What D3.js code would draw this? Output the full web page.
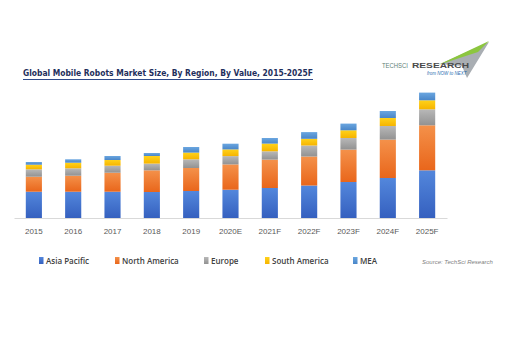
<!DOCTYPE html>
<html>
<head>
<meta charset="utf-8">
<script src="https://cdn.jsdelivr.net/npm/d3@7"></script>
<style>
  html, body { margin: 0; padding: 0; background: #fff; }
  svg { display: block; }
</style>
</head>
<body>
<svg id="chart" width="512" height="337"></svg>
<script>
'use strict';

//  --------------------------------  DATA  --------------------------------  //

const years = ['2015', '2016', '2017', '2018', '2019', '2020E', '2021F', '2022F', '2023F', '2024F', '2025F'];
const regions = ['Asia Pacific', 'North America', 'Europe', 'South America', 'MEA'];
const asiaPacific = [26.3, 26.3, 26.3, 26, 27, 28.3, 30, 32.5, 36, 40, 47.7];
const northAmerica = [15, 16, 19, 21.7, 23, 25.3, 28.4, 29, 32.4, 38.4, 45];
const europe = [7.4, 7.4, 7, 6.7, 8.7, 8.3, 8.3, 11, 11.6, 13.6, 16];
const southAmerica = [4.6, 5.6, 5.7, 7.6, 6.7, 6.7, 7.7, 6.7, 7.7, 8, 9];
const mea = [2.7, 3.4, 4, 3, 5.6, 5.7, 5.6, 6.7, 6.7, 7, 7.7];

// top / bottom stops of each segment gradient
const colors = {
  'Asia Pacific': ['#5387dc', '#3560bf'],
  'North America': ['#f4914a', '#e9661b'],
  'Europe': ['#b8b8b8', '#929292'],
  'South America': ['#ffd21a', '#f6b400'],
  'MEA': ['#6aa6e0', '#4a86c8']
};

class RegionChart {
  constructor() {
    this._svg = d3.select('#chart');
    this._x = {};
    this._y = {};

    this._init();
    this._drawHeader();
    this._drawBars();
    this._drawAxis();
    this._drawLegend();
  }

  _init() {
    const table = years.map((year, i) => ({
      year: year,
      'Asia Pacific': asiaPacific[i],
      'North America': northAmerica[i],
      'Europe': europe[i],
      'South America': southAmerica[i],
      'MEA': mea[i]
    }));
    this._series = d3.stack().keys(regions)(table);

    this._x = d3.scaleBand().domain(years).range([14, 447]).paddingInner(0.59).paddingOuter(0.3);
    this._y = d3.scaleLinear().domain([0, 130]).range([218, 88]);

    const defs = this._svg.append('defs');
    regions.forEach((key, i) => {
      const grad = defs.append('linearGradient')
        .attr('id', `grad-${i}`)
        .attr('x1', 0).attr('y1', 0).attr('x2', 0).attr('y2', 1);
      grad.append('stop').attr('offset', '0%').attr('stop-color', colors[key][0]);
      grad.append('stop').attr('offset', '100%').attr('stop-color', colors[key][1]);
    });
  }

  _drawHeader() {
    const svg = this._svg;

    svg.append('text')
      .attr('x', 23)
      .attr('y', 75.5)
      .attr('font-family', 'DejaVu Sans')
      .attr('font-weight', 'bold')
      .attr('font-size', 9.5)
      .attr('fill', '#1f2f5c')
      .attr('textLength', 290)
      .attr('lengthAdjust', 'spacingAndGlyphs')
      .text('Global Mobile Robots Market Size, By Region, By Value, 2015-2025F');

    svg.append('line')
      .attr('x1', 23).attr('x2', 313)
      .attr('y1', 79.5).attr('y2', 79.5)
      .attr('stroke', '#2f4a8a')
      .attr('stroke-width', 1);

    // TechSci logo, simple swoosh + wordmark
    const logo = svg.append('g');
    logo.append('path')
      .attr('d', 'M440,64 L489,42 L467,78 L462,66 Z')
      .attr('fill', '#a9aeb3');
    logo.append('path')
      .attr('d', 'M438,65 L489,41 L478,52 Z')
      .attr('fill', '#8cc63f');
    logo.append('text')
      .attr('x', 382).attr('y', 68)
      .attr('font-family', 'Liberation Sans')
      .attr('font-size', 7)
      .attr('fill', '#5f7f78')
      .attr('textLength', 26)
      .attr('lengthAdjust', 'spacingAndGlyphs')
      .text('TECHSCI');
    logo.append('text')
      .attr('x', 412).attr('y', 68)
      .attr('font-family', 'Liberation Sans')
      .attr('font-weight', 'bold')
      .attr('font-size', 7)
      .attr('fill', '#4a4a4a')
      .attr('textLength', 57)
      .attr('lengthAdjust', 'spacingAndGlyphs')
      .text('RESEARCH');
    logo.append('text')
      .attr('x', 427).attr('y', 75)
      .attr('font-family', 'Liberation Sans')
      .attr('font-style', 'italic')
      .attr('font-size', 4.5)
      .attr('fill', '#2b6cb0')
      .text('from NOW to NEXT');
  }

  _drawBars() {
    this._svg.append('g')
      .selectAll('g')
      .data(this._series)
      .enter()
      .append('g')
      .attr('fill', (d, i) => `url(#grad-${i})`)
      .selectAll('rect')
      .data(d => d)
      .enter()
      .append('rect')
      .attr('x', d => this._x(d.data.year))
      .attr('width', this._x.bandwidth())
      .attr('y', d => this._y(d[1]))
      .attr('height', d => this._y(d[0]) - this._y(d[1]));
  }

  _drawAxis() {
    const axis = this._svg.append('g')
      .attr('transform', `translate(0,${this._y(0)})`)
      .call(d3.axisBottom(this._x).tickSize(0).tickPadding(10));

    axis.select('.domain').attr('stroke', '#d9d9d9');
    axis.selectAll('text')
      .attr('font-family', 'Liberation Sans')
      .attr('font-size', 8)
      .attr('fill', '#595959');
  }

  _drawLegend() {
    const offsets = [39, 115, 204, 265, 353];
    const legend = this._svg.append('g')
      .selectAll('g')
      .data(regions)
      .enter()
      .append('g')
      .attr('transform', (d, i) => `translate(${offsets[i]},257)`);

    legend.append('rect')
      .attr('width', 4.5)
      .attr('height', 7)
      .attr('fill', (d, i) => `url(#grad-${i})`);

    legend.append('text')
      .attr('x', 7)
      .attr('y', 6.5)
      .attr('font-family', 'Open Sans')
      .attr('font-weight', 600)
      .attr('font-size', 8)
      .attr('fill', '#404040')
      .text(d => d);

    this._svg.append('text')
      .attr('x', 422)
      .attr('y', 264)
      .attr('font-family', 'Liberation Sans')
      .attr('font-style', 'italic')
      .attr('font-size', 6)
      .attr('fill', '#7f7f7f')
      .text('Source: TechSci Research');
  }
}

new RegionChart();
</script>
</body>
</html>
